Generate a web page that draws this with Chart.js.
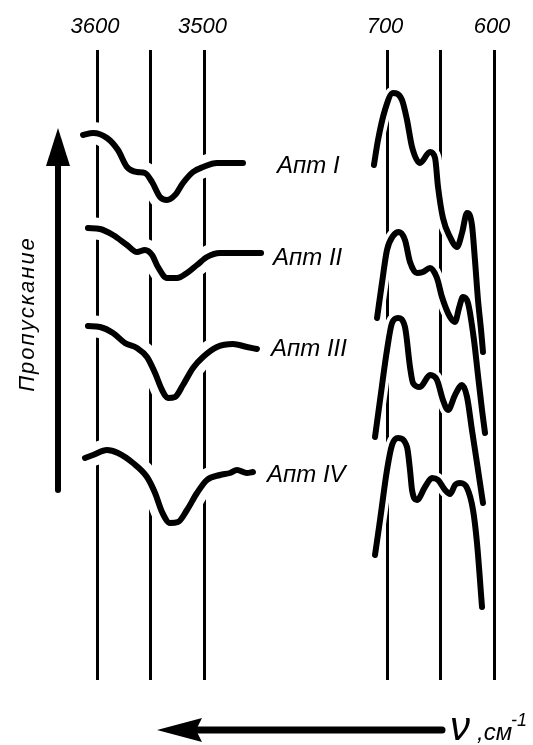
<!DOCTYPE html>
<html>
<head>
<meta charset="utf-8">
<script src="https://cdn.jsdelivr.net/npm/chart.js@4.4.1/dist/chart.umd.min.js"></script>
<style>
  html, body { margin: 0; padding: 0; background: #fff; }
  #wrap { position: relative; width: 533px; height: 745px; overflow: hidden; }
  canvas, svg { position: absolute; left: 0; top: 0; }
  svg { pointer-events: none; }
</style>
</head>
<body>
<div id="wrap">
  <canvas id="left" width="533" height="745"></canvas>
  <canvas id="right" width="533" height="745"></canvas>
  <svg width="533" height="745" viewBox="0 0 533 745" xmlns="http://www.w3.org/2000/svg">
    <g font-family="Liberation Sans, Arial, sans-serif" font-style="italic" fill="#000">
      <text x="277" y="173" font-size="24">Апт I</text>
      <text x="273" y="265" font-size="24">Апт II</text>
      <text x="271" y="356" font-size="24">Апт III</text>
      <text x="267" y="482" font-size="24">Апт IV</text>
      <text transform="translate(34,314) rotate(-90)" text-anchor="middle" font-size="22" letter-spacing="2">Пропускание</text>
      <text x="450" y="740" font-size="40">ν</text>
      <text x="477" y="740" font-size="24">,см</text>
      <text x="511" y="726" font-size="18">-1</text>
    </g>
    <!-- transmission arrow -->
    <line x1="58" y1="490" x2="58" y2="158" stroke="#000" stroke-width="6" stroke-linecap="round"/>
    <polygon points="58,128 46,166 70,166" fill="#000"/>
    <!-- wavenumber arrow -->
    <line x1="442" y1="730" x2="195" y2="730" stroke="#000" stroke-width="7" stroke-linecap="round"/>
    <polygon points="157,730 202,718 196,730 202,742" fill="#000"/>
  </svg>
</div>
<script>
// ---- tick values and labels ----
const leftTicks = [3600, 3550, 3500];
const leftTickLabels = ['3600', '', '3500'];
const rightTicks = [700, 650, 600];
const rightTickLabels = ['700', '', '600'];

// ---- curve labels ----
const samples = ['Апт I', 'Апт II', 'Апт III', 'Апт IV'];

// ---- 3600–3500 cm-1 region (wavenumber, transmission offset, arb. units) ----
const aptI_L_nu = [3613.0, 3603.7, 3590.7, 3580.5, 3572.1, 3562.8, 3555.4, 3548.8, 3541.4, 3534.9, 3527.4, 3520.0, 3510.7, 3501.4, 3488.4, 3476.3, 3464.2];
const aptI_L_T  = [54.5, 54.7, 54.2, 53.0, 51.3, 50.8, 50.7, 49.8, 48.3, 48.0, 48.5, 49.7, 50.8, 51.3, 51.7, 51.7, 51.7];

const aptII_L_nu = [3608.4, 3597.2, 3585.1, 3572.1, 3562.8, 3555.4, 3548.8, 3543.3, 3534.9, 3525.6, 3516.3, 3507.0, 3497.7, 3485.6, 3467.0, 3447.4];
const aptII_L_T  = [45.2, 45.1, 44.5, 43.5, 42.8, 43.0, 42.5, 41.3, 40.2, 40.2, 40.7, 41.5, 42.3, 42.7, 42.7, 42.7];

const aptIII_L_nu = [3608.4, 3597.2, 3585.1, 3574.0, 3562.8, 3553.5, 3546.0, 3539.5, 3534.0, 3527.4, 3520.0, 3510.7, 3501.4, 3488.4, 3473.5, 3460.5, 3451.2];
const aptIII_L_T  = [35.4, 35.3, 34.7, 33.7, 33.2, 32.3, 30.7, 29.0, 28.2, 28.3, 29.5, 31.2, 32.3, 33.3, 33.6, 33.3, 33.1];

const aptIV_L_nu = [3611.2, 3603.7, 3590.7, 3580.5, 3566.5, 3553.5, 3546.0, 3539.5, 3532.1, 3524.7, 3516.3, 3507.0, 3497.7, 3485.6, 3476.3, 3469.8, 3460.5, 3454.9];
const aptIV_L_T  = [22.2, 22.5, 23.0, 22.7, 21.7, 20.3, 18.7, 16.8, 15.7, 15.8, 17.0, 18.7, 20.0, 20.5, 20.7, 21.0, 20.7, 20.8];

// ---- 700–600 cm-1 region ----
const aptI_R_nu = [712.2, 708.4, 701.9, 694.4, 686.0, 681.3, 676.6, 669.2, 659.8, 655.1, 652.3, 647.7, 641.1, 634.6, 629.9, 625.2, 620.6, 617.8, 614.95, 612.1, 610.3];
const aptI_R_T  = [51.5, 54.0, 57.0, 58.7, 58.0, 56.0, 53.3, 51.7, 52.8, 52.2, 49.3, 46.2, 44.3, 43.3, 44.7, 46.7, 45.5, 42.0, 38.0, 35.0, 32.8];

const aptII_R_nu = [709.3, 704.7, 700.0, 694.4, 688.8, 683.2, 678.5, 672.0, 666.4, 659.8, 653.3, 648.6, 641.1, 636.4, 632.7, 629.0, 624.3, 618.7, 615.0, 611.2, 608.4];
const aptII_R_T  = [36.2, 39.7, 43.0, 44.4, 44.8, 44.0, 41.8, 40.7, 40.8, 41.2, 40.2, 38.3, 36.3, 35.8, 37.2, 38.3, 37.7, 34.0, 30.5, 27.0, 24.7];

const aptIII_R_nu = [711.2, 706.5, 700.0, 695.3, 689.7, 683.2, 678.5, 675.7, 669.2, 659.8, 653.3, 647.7, 643.0, 636.4, 629.9, 625.2, 620.6, 615.9, 610.3];
const aptIII_R_T  = [24.3, 28.0, 33.0, 35.7, 36.2, 35.3, 31.3, 29.7, 29.3, 30.5, 30.0, 28.0, 27.0, 28.5, 29.5, 28.3, 25.0, 21.7, 17.7];

const aptIV_R_nu = [711.2, 706.5, 700.0, 695.3, 689.7, 681.3, 678.5, 676.6, 672.0, 664.5, 657.9, 652.3, 645.8, 641.1, 636.4, 631.8, 625.2, 619.6, 615.9, 611.2];
const aptIV_R_T  = [12.5, 16.0, 21.0, 23.5, 24.2, 23.3, 21.0, 19.0, 18.0, 19.3, 20.2, 20.0, 19.0, 18.6, 19.5, 19.7, 19.2, 17.0, 13.7, 7.3];

// ---- build datasets ----
function zip(nu, t) { return nu.map((x, i) => ({ x: x, y: t[i] })); }

function makeDatasets(curves, haloWidth) {
  const out = [];
  curves.forEach((c, i) => {
    const pts = zip(c[0], c[1]);
    out.push({ label: samples[i] + ' halo', data: pts, borderColor: '#fff', borderWidth: haloWidth, order: 1 });
    out.push({ label: samples[i], data: pts, borderColor: '#000', borderWidth: 6, order: 0 });
  });
  return out;
}

const tickFont = { family: 'Liberation Sans', size: 22, style: 'italic' };

function makeConfig(datasets, min, max, ticks, tickLabels, padLeft, padRight) {
  return {
    type: 'line',
    data: { datasets: datasets },
    options: {
      responsive: false,
      animation: false,
      events: [],
      layout: { padding: { left: padLeft, right: padRight, top: 3.6, bottom: 65 } },
      plugins: { legend: { display: false }, tooltip: { enabled: false } },
      elements: {
        point: { radius: 0 },
        line: { cubicInterpolationMode: 'monotone', borderCapStyle: 'round', borderJoinStyle: 'round', fill: false }
      },
      scales: {
        x: {
          type: 'linear',
          position: 'top',
          reverse: true,
          min: min,
          max: max,
          afterBuildTicks: (axis) => { axis.ticks = ticks.map(v => ({ value: v })); },
          ticks: {
            autoSkip: false,
            maxRotation: 0,
            padding: 10,
            labelOffset: -2,
            color: '#000',
            font: tickFont,
            callback: (v, i) => tickLabels[i]
          },
          grid: { color: '#000', lineWidth: 3, drawTicks: false },
          border: { display: false }
        },
        y: { display: false, min: 0, max: 63 }
      }
    }
  };
}

new Chart(document.getElementById('left'), makeConfig(
  makeDatasets([[aptI_L_nu, aptI_L_T], [aptII_L_nu, aptII_L_T], [aptIII_L_nu, aptIII_L_T], [aptIV_L_nu, aptIV_L_T]], 22),
  3440, 3620, leftTicks, leftTickLabels, 75.5, 264));

new Chart(document.getElementById('right'), makeConfig(
  makeDatasets([[aptI_R_nu, aptI_R_T], [aptII_R_nu, aptII_R_T], [aptIII_R_nu, aptIII_R_T], [aptIV_R_nu, aptIV_R_T]], 13),
  580, 720, rightTicks, rightTickLabels, 365.6, 17.6));
</script>
</body>
</html>
